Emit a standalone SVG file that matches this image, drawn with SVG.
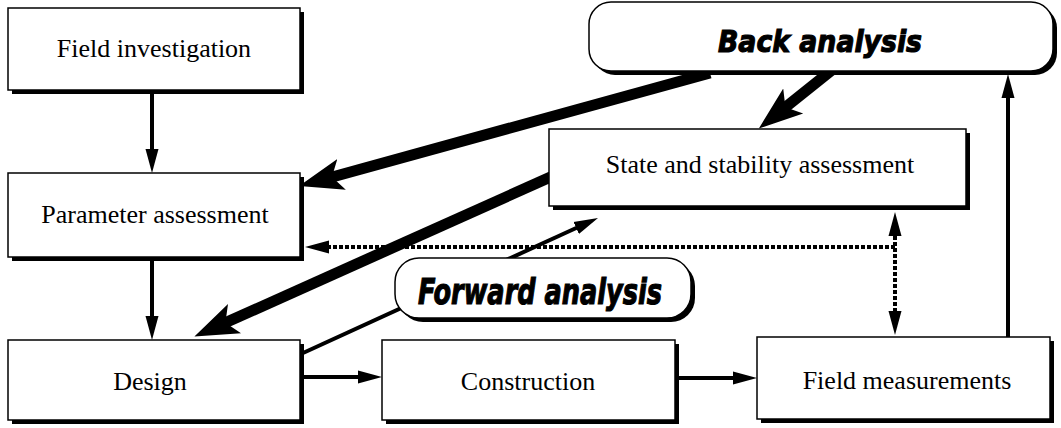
<svg xmlns="http://www.w3.org/2000/svg" width="1061" height="428" viewBox="0 0 1061 428">
<style>
.box{fill:#fff;stroke:#000;stroke-width:1.5}
.sh{fill:#000}
.lbl{font-family:"Liberation Serif","Times New Roman",serif;font-size:26px;fill:#000;text-anchor:middle}
.big{font-family:"DejaVu Sans","Liberation Sans",sans-serif;font-weight:bold;font-style:italic;fill:#000;stroke:#000;stroke-width:1.2;text-anchor:middle}
.thin{fill:none;stroke:#000;stroke-width:4}
.thick{fill:none;stroke:#000;stroke-width:11}
.dot{fill:none;stroke:#000;stroke-width:4;stroke-dasharray:4 2}
</style>
<defs>
<marker id="ah" markerUnits="userSpaceOnUse" viewBox="0 -8 24 16" markerWidth="24" markerHeight="16" refX="12" refY="0" orient="auto-start-reverse">
<path d="M0,-6.5 L24,0 L0,6.5 Z" fill="#000"/>
</marker>
<marker id="ahb" markerUnits="userSpaceOnUse" viewBox="0 -17 44 34" markerWidth="44" markerHeight="34" refX="20" refY="0" orient="auto">
<path d="M0,-16 L44,0 L0,16 L10,0 Z" fill="#000"/>
</marker>
</defs>
<g id="connectors">
<path class="thin" d="M152,94 L152,161" marker-end="url(#ah)"/>
<path class="thin" d="M152,260 L152,328" marker-end="url(#ah)"/>
<path class="thin" d="M303,377 L370,377" marker-end="url(#ah)"/>
<path class="thin" d="M678,378 L745,378" marker-end="url(#ah)"/>
<path class="thin" d="M1008,337 L1008,86" marker-end="url(#ah)"/>
<path class="thin" d="M303,353 L587.1,223" marker-end="url(#ah)"/>
<path class="thick" d="M710,73 L322.3,179.7" marker-end="url(#ahb)"/>
<path class="thick" d="M832,70 L777.6,113.5" marker-end="url(#ahb)"/>
<path class="thick" d="M555,175 L216.3,326.8" marker-end="url(#ahb)"/>
<path class="dot" d="M895,247 L317,247" marker-end="url(#ah)"/>
<path class="dot" d="M895,224 L895,323" marker-start="url(#ah)" marker-end="url(#ah)"/>
</g>
<g id="n-field">
<rect class="sh" x="12" y="12" width="292" height="82"/>
<rect class="box" x="8" y="8" width="292" height="82"/>
<text class="lbl" x="154" y="57">Field investigation</text>
</g>
<g id="n-param">
<rect class="sh" x="12" y="177" width="292" height="84"/>
<rect class="box" x="8" y="173" width="292" height="84"/>
<text class="lbl" x="155" y="223">Parameter assessment</text>
</g>
<g id="n-design">
<rect class="sh" x="12" y="344" width="292" height="80"/>
<rect class="box" x="8" y="340" width="292" height="80"/>
<text class="lbl" x="150" y="390">Design</text>
</g>
<g id="n-construction">
<rect class="sh" x="386" y="344" width="293" height="80"/>
<rect class="box" x="382" y="340" width="293" height="80"/>
<text class="lbl" x="528" y="390">Construction</text>
</g>
<g id="n-measurements">
<rect class="sh" x="761" y="341" width="293" height="82"/>
<rect class="box" x="757" y="337" width="293" height="82"/>
<text class="lbl" x="907" y="389">Field measurements</text>
</g>
<g id="n-state">
<rect class="sh" x="553" y="133" width="417" height="77"/>
<rect class="box" x="549" y="129" width="417" height="77"/>
<text class="lbl" x="760" y="173">State and stability assessment</text>
</g>
<g id="n-back">
<rect class="sh" x="593" y="6" width="464" height="69" rx="22"/>
<rect class="box" x="589" y="2" width="464" height="69" rx="22"/>
<text class="big" x="820" y="52" font-size="31" textLength="204" lengthAdjust="spacingAndGlyphs">Back analysis</text>
</g>
<g id="n-forward">
<rect class="sh" x="399" y="262" width="296" height="60" rx="24"/>
<rect class="box" x="395" y="258" width="296" height="60" rx="24"/>
<text class="big" x="540" y="304" font-size="36" textLength="244" lengthAdjust="spacingAndGlyphs">Forward analysis</text>
</g>
</svg>
